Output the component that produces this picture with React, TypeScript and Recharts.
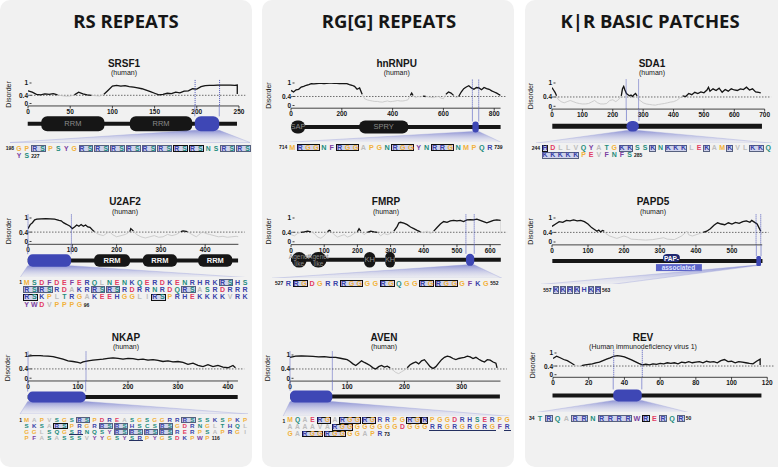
import React from "react";
import { ComposedChart, Line, XAxis, YAxis, ReferenceLine, ReferenceArea } from "recharts";

const FONT = '"Liberation Sans", Arial, Helvetica, sans-serif';
const HEAD_FONT = '"Open Sans", "Liberation Sans", sans-serif';
const INK = "#161616";
const FAINT = "#c8c8c8";
const REGION = "#3e47b5";
const PANEL_BG = "#f1f1f1";

// residue colour classes
const AA: Record<string, string> = {
  R: "#3a43a8", K: "#3a43a8", H: "#3a43a8",
  D: "#e23b63", E: "#e23b63",
  S: "#1d8c7c", T: "#1d8c7c", N: "#1d8c7c", Q: "#1d8c7c", C: "#1d8c7c",
  G: "#f2b23c", P: "#f2b23c", M: "#f2b23c",
  A: "#bdbdbd", V: "#bdbdbd", L: "#bdbdbd", I: "#bdbdbd",
  F: "#7a3ea1", Y: "#7a3ea1", W: "#7a3ea1",
};

// column headers
const HEADERS = ["RS REPEATS", "RG[G] REPEATS", "K|R BASIC PATCHES"];

// ---- disorder profiles: [residue, score] ----
const SRSF1_DISORDER: [number, number][] = [
  [0, 0.62], [5, 0.55], [10, 0.45], [15, 0.42], [20, 0.47], [25, 0.45], [30, 0.48], [35, 0.42], [40, 0.38], [45, 0.35],
  [50, 0.36], [55, 0.42], [60, 0.55], [65, 0.47], [70, 0.42], [75, 0.4], [80, 0.38], [85, 0.36], [90, 0.45], [95, 0.65],
  [100, 0.85], [105, 0.88], [110, 0.85], [115, 0.87], [120, 0.82], [125, 0.8], [130, 0.76], [135, 0.72], [140, 0.65], [145, 0.58],
  [150, 0.5], [155, 0.42], [160, 0.45], [165, 0.5], [170, 0.48], [175, 0.55], [180, 0.52], [185, 0.6], [190, 0.62], [195, 0.72],
  [200, 0.7], [205, 0.82], [210, 0.87], [215, 0.88], [220, 0.88], [225, 0.9], [230, 0.9], [235, 0.9], [240, 0.9], [245, 0.88],
  [248, 0.9], [248, 0.46],
];
const U2AF2_DISORDER: [number, number][] = [
  [0, 0.55], [5, 0.72], [10, 0.8], [15, 0.92], [20, 0.95], [30, 0.96], [40, 0.97], [50, 0.96], [60, 0.95], [70, 0.9],
  [75, 0.88], [80, 0.8], [85, 0.75], [90, 0.7], [95, 0.65], [100, 0.55], [105, 0.62], [110, 0.7], [115, 0.65], [120, 0.72],
  [125, 0.65], [130, 0.7], [135, 0.62], [140, 0.6], [145, 0.5], [150, 0.42], [155, 0.35], [160, 0.3], [170, 0.25], [180, 0.38],
  [185, 0.42], [190, 0.3], [200, 0.2], [210, 0.25], [220, 0.3], [230, 0.42], [232, 0.55], [238, 0.45], [245, 0.3], [255, 0.2],
  [265, 0.15], [275, 0.2], [285, 0.25], [295, 0.18], [305, 0.2], [315, 0.3], [325, 0.25], [335, 0.3], [345, 0.42], [350, 0.45],
  [360, 0.42], [370, 0.3], [380, 0.2], [390, 0.35], [395, 0.42], [400, 0.35], [410, 0.3], [420, 0.25], [430, 0.2], [440, 0.22],
  [450, 0.18], [460, 0.2], [470, 0.22], [475, 0.2],
];
const NKAP_DISORDER: [number, number][] = [
  [0, 0.95], [10, 0.97], [20, 0.98], [30, 0.96], [40, 0.95], [50, 0.93], [60, 0.88], [70, 0.82], [80, 0.75], [90, 0.72],
  [100, 0.68], [105, 0.65], [110, 0.7], [120, 0.75], [130, 0.78], [140, 0.8], [150, 0.82], [160, 0.85], [170, 0.88], [180, 0.85],
  [190, 0.82], [200, 0.85], [210, 0.84], [220, 0.8], [230, 0.82], [240, 0.78], [250, 0.8], [260, 0.77], [270, 0.72], [280, 0.75],
  [290, 0.7], [300, 0.72], [310, 0.68], [320, 0.6], [330, 0.65], [340, 0.55], [350, 0.5], [360, 0.58], [370, 0.5], [380, 0.55],
  [390, 0.48], [400, 0.45], [410, 0.55], [415, 0.45],
];
const HNRNPU_DISORDER: [number, number][] = [
  [0, 0.67], [10, 0.6], [20, 0.7], [30, 0.72], [40, 0.82], [50, 0.85], [60, 0.9], [70, 0.93], [80, 0.97], [90, 0.96],
  [100, 0.97], [110, 0.98], [120, 0.98], [130, 0.97], [140, 0.98], [150, 0.99], [160, 0.99], [170, 0.98], [180, 0.98], [190, 0.97],
  [200, 0.98], [210, 0.97], [220, 0.97], [230, 0.93], [240, 0.9], [250, 0.85], [260, 0.72], [270, 0.78], [280, 0.5], [290, 0.3],
  [300, 0.25], [310, 0.22], [320, 0.2], [330, 0.18], [340, 0.18], [350, 0.16], [360, 0.15], [370, 0.18], [380, 0.2], [390, 0.17],
  [400, 0.18], [410, 0.2], [420, 0.22], [430, 0.2], [440, 0.2], [450, 0.22], [460, 0.25], [470, 0.45], [475, 0.55], [480, 0.45],
  [490, 0.35], [500, 0.4], [510, 0.38], [520, 0.42], [530, 0.4], [540, 0.38], [550, 0.36], [560, 0.35], [570, 0.38], [580, 0.4],
  [590, 0.33], [600, 0.3], [610, 0.5], [620, 0.6], [630, 0.55], [640, 0.45], [650, 0.35], [660, 0.4], [670, 0.6], [680, 0.75],
  [690, 0.82], [700, 0.88], [710, 0.78], [720, 0.72], [730, 0.8], [740, 0.78], [750, 0.7], [760, 0.8], [770, 0.75], [780, 0.72],
  [790, 0.65], [800, 0.6], [810, 0.55], [820, 0.48], [825, 0.45],
];
const FMRP_DISORDER: [number, number][] = [
  [0, 0.3], [10, 0.25], [20, 0.35], [30, 0.4], [40, 0.42], [50, 0.45], [60, 0.42], [70, 0.35], [80, 0.2], [90, 0.15],
  [100, 0.25], [110, 0.42], [115, 0.48], [120, 0.45], [130, 0.3], [140, 0.2], [150, 0.25], [160, 0.3], [170, 0.2], [180, 0.25],
  [190, 0.35], [200, 0.42], [205, 0.55], [210, 0.45], [220, 0.3], [230, 0.4], [240, 0.45], [250, 0.42], [260, 0.4], [270, 0.25],
  [280, 0.35], [290, 0.3], [300, 0.35], [310, 0.45], [320, 0.65], [325, 0.8], [330, 0.82], [340, 0.78], [350, 0.72], [360, 0.62],
  [370, 0.55], [380, 0.48], [390, 0.42], [400, 0.38], [410, 0.45], [420, 0.35], [430, 0.45], [440, 0.6], [450, 0.75], [460, 0.85],
  [470, 0.82], [480, 0.88], [490, 0.9], [500, 0.88], [510, 0.9], [520, 0.85], [530, 0.92], [540, 0.93], [550, 0.92], [560, 0.95],
  [570, 0.9], [580, 0.85], [590, 0.8], [600, 0.85], [610, 0.9], [620, 0.92], [632, 0.9], [632, 0.35],
];
const AVEN_DISORDER: [number, number][] = [
  [0, 0.9], [10, 0.95], [20, 0.96], [30, 0.95], [40, 0.94], [50, 0.92], [60, 0.93], [70, 0.9], [80, 0.9], [90, 0.85],
  [100, 0.8], [105, 0.72], [110, 0.62], [115, 0.55], [120, 0.65], [125, 0.75], [130, 0.68], [135, 0.62], [140, 0.55], [145, 0.45],
  [150, 0.4], [155, 0.5], [160, 0.55], [165, 0.48], [170, 0.52], [175, 0.45], [180, 0.35], [185, 0.25], [190, 0.2], [195, 0.28],
  [200, 0.35], [205, 0.45], [210, 0.58], [215, 0.65], [220, 0.7], [225, 0.62], [230, 0.75], [235, 0.8], [240, 0.65], [245, 0.5],
  [250, 0.42], [255, 0.5], [260, 0.65], [265, 0.8], [270, 0.9], [275, 0.95], [280, 0.92], [285, 0.85], [290, 0.8], [295, 0.85],
  [300, 0.88], [305, 0.9], [310, 0.95], [315, 0.92], [320, 0.85], [325, 0.9], [330, 0.82], [335, 0.75], [340, 0.7], [345, 0.8],
  [350, 0.78], [355, 0.7], [360, 0.65], [362, 0.45],
];
const SDA1_DISORDER: [number, number][] = [
  [0, 0.8], [5, 0.7], [10, 0.6], [15, 0.45], [20, 0.3], [30, 0.2], [40, 0.15], [50, 0.2], [60, 0.25], [70, 0.2],
  [80, 0.15], [90, 0.12], [100, 0.1], [110, 0.1], [120, 0.12], [130, 0.18], [140, 0.25], [150, 0.15], [160, 0.1], [170, 0.1],
  [180, 0.12], [190, 0.25], [200, 0.28], [210, 0.2], [220, 0.3], [228, 0.45], [232, 0.75], [236, 0.85], [240, 0.7], [245, 0.55],
  [250, 0.5], [255, 0.45], [260, 0.48], [265, 0.42], [270, 0.5], [275, 0.55], [280, 0.45], [285, 0.3], [290, 0.25], [300, 0.15],
  [310, 0.1], [320, 0.08], [330, 0.06], [340, 0.05], [350, 0.08], [360, 0.1], [370, 0.12], [380, 0.15], [390, 0.18], [400, 0.2],
  [410, 0.25], [420, 0.35], [430, 0.45], [440, 0.42], [450, 0.55], [460, 0.5], [470, 0.6], [480, 0.55], [490, 0.62], [500, 0.58],
  [510, 0.7], [515, 0.82], [520, 0.65], [530, 0.75], [540, 0.68], [550, 0.78], [560, 0.6], [570, 0.72], [580, 0.65], [590, 0.75],
  [600, 0.7], [610, 0.68], [620, 0.75], [630, 0.72], [640, 0.82], [650, 0.7], [660, 0.75], [670, 0.62], [680, 0.6], [687, 0.58],
];
const PAPD5_DISORDER: [number, number][] = [
  [0, 0.65], [10, 0.75], [20, 0.85], [30, 0.82], [40, 0.9], [50, 0.88], [60, 0.92], [70, 0.88], [80, 0.9], [90, 0.85],
  [100, 0.75], [110, 0.6], [120, 0.5], [125, 0.45], [130, 0.5], [135, 0.42], [140, 0.48], [145, 0.45], [150, 0.35], [160, 0.25],
  [170, 0.2], [180, 0.15], [190, 0.2], [200, 0.25], [210, 0.2], [220, 0.12], [240, 0.1], [260, 0.08], [280, 0.1], [300, 0.15],
  [310, 0.18], [320, 0.12], [340, 0.1], [360, 0.25], [370, 0.38], [375, 0.45], [380, 0.3], [390, 0.25], [400, 0.3], [410, 0.35],
  [420, 0.4], [430, 0.45], [440, 0.55], [450, 0.7], [460, 0.8], [470, 0.75], [480, 0.72], [490, 0.8], [500, 0.75], [510, 0.82],
  [520, 0.78], [530, 0.85], [540, 0.88], [550, 0.82], [555, 0.9], [560, 0.85], [570, 0.75], [575, 0.6], [580, 0.45], [584, 0.3],
];
const REV_DISORDER: [number, number][] = [
  [0, 0.75], [2, 0.85], [4, 0.78], [6, 0.7], [8, 0.65], [10, 0.55], [12, 0.45], [14, 0.38], [16, 0.42], [18, 0.45],
  [20, 0.48], [22, 0.5], [24, 0.55], [26, 0.58], [28, 0.65], [30, 0.72], [32, 0.78], [34, 0.85], [36, 0.88], [38, 0.86],
  [40, 0.82], [42, 0.75], [44, 0.68], [46, 0.6], [48, 0.52], [50, 0.45], [52, 0.48], [54, 0.45], [56, 0.5], [58, 0.48],
  [60, 0.52], [62, 0.5], [64, 0.55], [66, 0.52], [68, 0.55], [70, 0.5], [72, 0.58], [74, 0.55], [76, 0.6], [78, 0.55],
  [80, 0.58], [82, 0.6], [84, 0.55], [86, 0.62], [88, 0.58], [90, 0.6], [92, 0.55], [94, 0.65], [96, 0.7], [98, 0.6],
  [100, 0.62], [102, 0.55], [104, 0.6], [106, 0.58], [108, 0.55], [110, 0.52], [112, 0.5], [114, 0.62], [116, 0.72], [116, 0.45],
];

// ---- x ticks ----
const SRSF1_TICKS = [0, 50, 100, 150, 200, 250];
const U2AF2_TICKS = [0, 100, 200, 300, 400];
const NKAP_TICKS = [0, 100, 200, 300, 400];
const HNRNPU_TICKS = [0, 200, 400, 600, 800];
const FMRP_TICKS = [0, 100, 200, 300, 400, 500, 600];
const AVEN_TICKS = [0, 100, 200, 300];
const SDA1_TICKS = [0, 100, 200, 300, 400, 500, 600, 700];
const PAPD5_TICKS = [0, 100, 200, 300, 400, 500];
const REV_TICKS = [0, 20, 40, 60, 80, 100, 120];
const DISORDER_TICKS = [0, 0.4, 1];

// ---- domains [from, to, label] ----
const SRSF1_DOMAINS: [number, number, string][] = [[16, 91, "RRM"], [121, 195, "RRM"]];
const U2AF2_DOMAINS: [number, number, string][] = [[150, 231, "RRM"], [260, 337, "RRM"], [385, 462, "RRM"]];
const HNRNPU_DOMAINS: [number, number, string][] = [[0, 55, "SAP"], [268, 462, "SPRY"]];
const FMRP_DOMAINS: [number, number, string][] = [[2, 47, "Agenet|like"], [58, 107, "Agenet|like"], [220, 254, "KH"], [284, 313, "KH"]];
const PAPD5_DOMAINS: [number, number, string][] = [[313, 349, "PAP-|associated"]];

// ---- sequences: [..] boxed, {..} dark box, (..) underlined ----
const SRSF1_SEQ = ["GP[RS]PSYG[RS][RS][RS][RS][RS][RS]{RS}{RS}NS[RS][RS]", "YS"];
const U2AF2_SEQ = [
  "MSDFDEFERQLNENKQERDKENRHRK[RS]HS",
  "[RS][RS]RDAKR[RS][RS]RDRRNRDQ[RS]ASRDRRR",
  "{RS}KPLTRGAKEEHGGLI{RS}PRHEKKKKVRK",
  "YWDVPPPG",
];
const NKAP_SEQ = [
  "MAPVSGS[RS]PDREASGSGGRR[RS]SSKSPKP",
  "SKSA{RS}PRGR[RS][RS]HSCS[RS]GDRNGLTHQL",
  "GGLSQG(SR)NQSY[RS][RS][RS][RS]RERPSAPRGI",
  "PFASASSSVYYGSY(SR)PYGSDKPWP",
];
const HNRNPU_SEQ = ["M{RGG}NF{RGG}APGN{RGG}YN{RRG}NMPQR"];
const FMRP_SEQ = ["R{RG}DGRR{RGG}GG{RG}QGG{RG}{RGG}GFKG"];
const AVEN_SEQ = [
  "MQAE{RG}A{RGG}{RG}RRPG{RG}{R}PGGDRHSERPG",
  "AAAAVA{RGG}GGGGGGDGGG(RRG)(RG)(RG)(RG)F(R)",
  "GA{RGG}{RGG}GGAPR",
];
const SDA1_SEQ = ["{H}DLLVQYATG[KK]SS[K]N[KKK]LE[K]AM[K]VL[KK]Q", "[KKKKK]PEVFNFS"];
const PAPD5_SEQ = ["[K][K][R][K]H[K][R]"];
const REV_SEQ = ["T[R]QA[RR]N[RRRR]W{R}E[R]Q[R]"];

const PANELS = [
  { name: "SRSF1", sub: "(human)", dis: SRSF1_DISORDER, ticks: SRSF1_TICKS, xMax: 250, len: 248, domains: SRSF1_DOMAINS, region: [198, 227], seq: SRSF1_SEQ, range: [198, 227],
    lay: { pL: 4, pR: 250, x0: 27.7, x1: 238.7, y1: 82.5, y0: 103, lab: 6.8, domY: 124.3, domH: 15, domR: 6, regH: 15, regR: 6, bb: 4, triY: 143, triL: 10, triR: 250, seqX: 19, seqY: 148.3, pitch: 7.88, rowH: 7.5, fs: 6.8, tx: 124, ty: 63, sy: 72.7, domText: "#8a8a8a", domBold: false } },
  { name: "U2AF2", sub: "(human)", dis: U2AF2_DISORDER, ticks: U2AF2_TICKS, xMax: 475, len: 475, domains: U2AF2_DOMAINS, region: [0, 98], seq: U2AF2_SEQ, range: [1, 96],
    lay: { pL: 4, pR: 250, x0: 27.7, x1: 238.1, y1: 217.5, y0: 241, lab: 6.6, domY: 260.3, domH: 12.5, domR: 5, regH: 12.5, regR: 5, bb: 4, triY: 277.5, triL: 20, triR: 248, seqX: 26.7, seqY: 282.3, pitch: 7.53, rowH: 7.45, fs: 7, tx: 125, ty: 201.7, sy: 212, domText: "#f4f4f4", domBold: true } },
  { name: "NKAP", sub: "(human)", dis: NKAP_DISORDER, ticks: NKAP_TICKS, xMax: 420, len: 420, domains: [], region: [0, 116], seq: NKAP_SEQ, range: [1, 116],
    lay: { pL: 4, pR: 250, x0: 27.7, x1: 237.7, y1: 354.5, y0: 377.7, lab: 5.6, domY: 397.5, domH: 11, domR: 5, regH: 11, regR: 5, bb: 4, triY: 414.5, triL: 20, triR: 248, seqX: 26.7, seqY: 420, pitch: 7.53, rowH: 5.9, fs: 6.2, tx: 126, ty: 337, sy: 346.7, domText: "#8a8a8a", domBold: false } },
  { name: "hnRNPU", sub: "(human)", dis: HNRNPU_DISORDER, ticks: HNRNPU_TICKS, xMax: 825, len: 825, domains: HNRNPU_DOMAINS, region: [714, 739], seq: HNRNPU_SEQ, range: [714, 739],
    lay: { pL: 266, pR: 512, x0: 291, x1: 500.6, y1: 82.5, y0: 105, lab: 3.5, domY: 126.7, domH: 13, domR: 6, regH: 11, regR: 99, bb: 4, triY: 142.5, triL: 280, triR: 502, seqX: 292.3, seqY: 147.3, pitch: 7.9, rowH: 7.4, fs: 7.2, tx: 396.7, ty: 63, sy: 72.7, domText: "#8a8a8a", domBold: false } },
  { name: "FMRP", sub: "(human)", dis: FMRP_DISORDER, ticks: FMRP_TICKS, xMax: 632, len: 632, domains: FMRP_DOMAINS, region: [527, 552], seq: FMRP_SEQ, range: [527, 552],
    lay: { pL: 266, pR: 512, x0: 291, x1: 500.8, y1: 217.5, y0: 241.3, lab: 3.5, domY: 260, domH: 15.5, domR: 99, regH: 12, regR: 99, bb: 4, triY: 278.5, triL: 272, triR: 502, seqX: 288.3, seqY: 283.3, pitch: 7.9, rowH: 7.4, fs: 7.2, tx: 386, ty: 201.7, sy: 212, domText: "#8a8a8a", domBold: false } },
  { name: "AVEN", sub: "(human)", dis: AVEN_DISORDER, ticks: AVEN_TICKS, xMax: 368, len: 367, domains: [], region: [0, 74], seq: AVEN_SEQ, range: [1, 73],
    lay: { pL: 266, pR: 512, x0: 290, x1: 500.5, y1: 355, y0: 378.3, lab: 3.5, domY: 396.7, domH: 12, domR: 5, regH: 12, regR: 5, bb: 4, triY: 416.5, triL: 283, triR: 510, seqX: 290, seqY: 420.7, pitch: 7.49, rowH: 6.7, fs: 6.7, tx: 384, ty: 337, sy: 346.7, domText: "#8a8a8a", domBold: false } },
  { name: "SDA1", sub: "(human)", dis: SDA1_DISORDER, ticks: SDA1_TICKS, xMax: 700, len: 690, domains: [], region: [244, 285], seq: SDA1_SEQ, range: [244, 285],
    lay: { pL: 530, pR: 776, x0: 552.3, x1: 765, y1: 82.7, y0: 106, lab: 4.8, domY: 126, domH: 10.5, domR: 5, regH: 10.5, regR: 99, bb: 5, triY: 143, triL: 536, triR: 772, seqX: 545, seqY: 148.3, pitch: 7.7, rowH: 6.9, fs: 7, tx: 652, ty: 63, sy: 72.7, domText: "#8a8a8a", domBold: false } },
  { name: "PAPD5", sub: "(human)", dis: PAPD5_DISORDER, ticks: PAPD5_TICKS, xMax: 584, len: 584, domains: PAPD5_DOMAINS, region: [567, 580], seq: PAPD5_SEQ, range: [557, 563],
    lay: { pL: 530, pR: 776, x0: 552.3, x1: 762.5, y1: 217.7, y0: 241.7, lab: 4.8, domY: 260.7, domH: 8, domR: 4, regH: 10, regR: 1.5, bb: 4, triY: 284, triL: 541, triR: 612, seqX: 556, seqY: 290, pitch: 7, rowH: 7.4, fs: 7.2, tx: 653, ty: 201.7, sy: 212, domText: "#ffffff", domBold: true } },
  { name: "REV", sub: "(Human immunodeficiency virus 1)", dis: REV_DISORDER, ticks: REV_TICKS, xMax: 120, len: 117, domains: [], region: [34, 50], seq: REV_SEQ, range: [34, 50],
    lay: { pL: 530, pR: 776, x0: 552.5, x1: 766.8, y1: 353.3, y0: 375, lab: 6, domY: 395, domH: 12, domR: 5, regH: 12, regR: 5, bb: 4, triY: 412.5, triL: 534, triR: 690, seqX: 540, seqY: 418.3, pitch: 8.8, rowH: 7.4, fs: 7.2, tx: 643, ty: 337, sy: 346.7, domText: "#8a8a8a", domBold: false } },
];

const COLS = [
  { x: 0, w: 252, cx: 126 },
  { x: 262, w: 252, cx: 389 },
  { x: 525, w: 262, cx: 650 },
];

function domainShape(label: string, color: string, bold: boolean, r: number) {
  const lines = label.split("|");
  return (p: any) => {
    const { x, y, width, height } = p;
    const rr = Math.min(r, width / 2, height / 2);
    if (label.startsWith("PAP")) {
      return (
        <g>
          <rect x={x - 2} y={y - 3} width={width + 4} height={height} rx={rr} fill="#1f2870" />
          <text x={x + width / 2} y={y - 3 + height / 2} textAnchor="middle" dominantBaseline="central" fontSize={6.5} fontWeight={700} fill="#fff" fontFamily={FONT}>{lines[0]}</text>
          <rect x={x - 9} y={y + height - 1} width={width + 33} height={7} fill="#5a62c8" />
          <text x={x + width / 2 + 7} y={y + height + 2.5} textAnchor="middle" dominantBaseline="central" fontSize={6.5} fontWeight={700} fill="#dfe2ff" fontFamily={FONT}>{lines[1]}</text>
        </g>
      );
    }
    return (
      <g>
        <rect x={x} y={y} width={width} height={height} rx={rr} fill={INK} />
        {lines.map((t, i) => (
          <text key={i} x={x + width / 2} y={y + height / 2 + (i - (lines.length - 1) / 2) * 6.5} textAnchor="middle" dominantBaseline="central"
            fontSize={lines.length > 1 ? 6.5 : 7.5} fontWeight={bold ? 700 : 400} fill={color} fontFamily={FONT}>{t}</text>
        ))}
      </g>
    );
  };
}

function regionShape(id: string, triL: number, triR: number, bottom: number, r: number) {
  return (p: any) => {
    const { x, y, width, height } = p;
    const rr = Math.min(r, width / 2, height / 2);
    const yb = y + height - 1;
    return (
      <g>
        <defs>
          <linearGradient id={id} x1="0" y1="0" x2="0" y2="1">
            <stop offset="0%" stopColor="#4d55c0" stopOpacity={0.6} />
            <stop offset="100%" stopColor="#c4c7ee" stopOpacity={0.1} />
          </linearGradient>
        </defs>
        <line x1={x} y1={0} x2={x} y2={y} stroke="#6a72c8" strokeWidth={0.7} />
        <line x1={x + width} y1={0} x2={x + width} y2={y} stroke="#6a72c8" strokeWidth={0.7} />
        <polygon points={`${x},${yb} ${x + width},${yb} ${triR},${bottom} ${triL},${bottom}`} fill={`url(#${id})`} stroke="#9da2dc" strokeWidth={0.4} />
        <rect x={x} y={y} width={width} height={height} rx={rr} fill={REGION} />
      </g>
    );
  };
}

// y tick drawn explicitly so that the "0" label is always shown
function YTick(p: any) {
  const { x, y, payload } = p;
  return (
    <g>
      <line x1={x + 1.5} y1={y} x2={x + 3.5} y2={y} stroke={INK} strokeWidth={0.8} />
      <text x={x} y={y} textAnchor="end" dominantBaseline="central" fontSize={6.5} fontWeight={700} fill={INK} fontFamily={FONT}>{String(payload.value)}</text>
    </g>
  );
}

function parseRow(row: string) {
  const letters: string[] = [];
  const boxes: { a: number; b: number; kind: string }[] = [];
  let open: { a: number; kind: string } | null = null;
  for (const c of row) {
    if (c === "[" || c === "{" || c === "(") open = { a: letters.length, kind: c };
    else if (c === "]" || c === "}" || c === ")") {
      if (open) boxes.push({ a: open.a, b: letters.length - 1, kind: open.kind });
      open = null;
    } else letters.push(c);
  }
  return { letters, boxes };
}

function Sequence({ rows, range, lay }: any) {
  const { seqX, seqY, pitch, rowH, fs } = lay;
  const parsed = rows.map(parseRow);
  const bh = Math.min(rowH - 0.2, fs * 1.2);
  const els: any[] = [];
  parsed.forEach((r: any, ri: number) => {
    const cy = seqY + ri * rowH;
    r.boxes.forEach((b: any, bi: number) => {
      const left = seqX + (b.a - 0.5) * pitch + 0.4;
      const w = (b.b - b.a + 1) * pitch - 0.8;
      if (b.kind === "(") {
        els.push(<div key={`u${ri}-${bi}`} style={{ position: "absolute", left, top: cy + bh / 2 - 0.9, width: w, height: 0, borderBottom: "0.9px solid #243060" }} />);
      } else {
        els.push(<div key={`b${ri}-${bi}`} style={{ position: "absolute", left, top: cy - bh / 2, width: w, height: bh, boxSizing: "border-box",
          border: b.kind === "{" ? "1px solid #111" : "0.8px solid #56607e", background: "#d0d3ec" }} />);
      }
    });
    r.letters.forEach((c: string, i: number) => {
      els.push(<span key={`l${ri}-${i}`} style={{ position: "absolute", left: seqX + (i - 0.5) * pitch, top: cy - rowH / 2, width: pitch, height: rowH,
        lineHeight: `${rowH}px`, textAlign: "center", fontSize: fs, fontWeight: 700, color: AA[c] || INK }}>{c}</span>);
    });
  });
  const last = parsed[parsed.length - 1];
  const lastY = seqY + (parsed.length - 1) * rowH;
  return (
    <div style={{ position: "absolute", left: 0, top: 0, fontFamily: FONT }}>
      {els}
      <span style={{ position: "absolute", left: seqX - pitch / 2 - 21, width: 20, textAlign: "right", top: seqY - 3, lineHeight: "6px", fontSize: 5, fontWeight: 700, color: INK }}>{range[0]}</span>
      <span style={{ position: "absolute", left: seqX + (last.letters.length - 0.5) * pitch + 0.5, top: lastY - 3, lineHeight: "6px", fontSize: 5, fontWeight: 700, color: INK }}>{range[1]}</span>
    </div>
  );
}

function Panel({ s, idx }: any) {
  const lay = s.lay;
  const YW = 26, MT = 6, MR = 12, XH = 14;
  const plotW = lay.x1 - lay.x0;
  const plotH = (lay.y0 - lay.y1) * 1.12;
  const axisY = lay.y1 + plotH;
  const rows = s.dis.map(([x, v]: [number, number]) => ({ x, all: v, hi: v >= 0.4 ? v : null }));
  const tick = { fontSize: 6.5, fill: INK, fontWeight: 700, fontFamily: FONT };
  const dTop = lay.domY - 10;
  const dH = lay.triY - axisY;
  const u = (px: number) => px / 10;
  const [r0, r1] = s.region;
  return (
    <>
      <div style={{ position: "absolute", left: lay.x0 - YW, top: lay.y1 - MT }}>
        <ComposedChart width={YW + plotW + MR} height={MT + plotH + XH} data={rows} margin={{ top: MT, right: MR, bottom: 0, left: 0 }}>
          <XAxis dataKey="x" type="number" domain={[0, s.xMax]} ticks={s.ticks} interval={0} allowDataOverflow height={XH}
            tickSize={2.5} tickMargin={1} axisLine={{ stroke: INK, strokeWidth: 0.8 }} tickLine={{ stroke: INK, strokeWidth: 0.8 }} tick={tick} />
          <YAxis type="number" domain={[-0.12, 1]} ticks={DISORDER_TICKS} interval={0} allowDataOverflow width={YW} tickSize={0} tickMargin={0}
            axisLine={false} tickLine={false} tick={<YTick />}
            label={{ value: "Disorder", angle: -90, position: "insideLeft", offset: lay.lab, fontSize: 7, fill: INK, fontFamily: FONT, style: { textAnchor: "middle" } }} />
          <ReferenceLine segment={[{ x: 0, y: 0.4 }, { x: s.xMax * 1.03, y: 0.4 }]} ifOverflow="visible" stroke="#333" strokeWidth={0.7} strokeDasharray="1.5 1.5" />
          <Line dataKey="all" stroke={FAINT} strokeWidth={0.9} dot={false} isAnimationActive={false} />
          <Line dataKey="hi" stroke={INK} strokeWidth={1.3} dot={false} isAnimationActive={false} />
          <ReferenceLine segment={[{ x: r0, y: 1.15 }, { x: r0, y: -0.12 }]} ifOverflow="visible" stroke={REGION} strokeWidth={0.9} strokeDasharray="1 1" />
          <ReferenceLine segment={[{ x: r1, y: 1.15 }, { x: r1, y: -0.12 }]} ifOverflow="visible" stroke={REGION} strokeWidth={0.9} strokeDasharray="1 1" />
        </ComposedChart>
      </div>
      <div style={{ position: "absolute", left: lay.pL, top: axisY }}>
        <ComposedChart width={lay.pR - lay.pL} height={dH} data={[{ x: 0 }, { x: s.xMax }]}
          margin={{ top: dTop - axisY, right: lay.pR - lay.x1, bottom: lay.triY - (lay.domY + 10), left: lay.x0 - lay.pL }}>
          <XAxis dataKey="x" type="number" domain={[0, s.xMax]} hide allowDataOverflow />
          <YAxis type="number" domain={[-1, 1]} hide allowDataOverflow />
          <ReferenceArea x1={0} x2={s.len} y1={-u(lay.bb / 2)} y2={u(lay.bb / 2)} fill={INK} fillOpacity={1} stroke="none" ifOverflow="visible" />
          {s.domains.map((d: [number, number, string], i: number) => (
            <ReferenceArea key={i} x1={d[0]} x2={d[1]} y1={-u(lay.domH / 2)} y2={u(lay.domH / 2)} ifOverflow="visible"
              shape={domainShape(d[2], lay.domText, lay.domBold, lay.domR)} />
          ))}
          <ReferenceArea x1={r0} x2={r1} y1={-u(lay.regH / 2)} y2={u(lay.regH / 2)} ifOverflow="visible"
            shape={regionShape(`tri${idx}`, lay.triL - lay.pL, lay.triR - lay.pL, dH, lay.regR)} />
        </ComposedChart>
      </div>
      <Sequence rows={s.seq} range={s.range} lay={lay} />
    </>
  );
}

export default function App() {
  return (
    <div style={{ position: "absolute", left: 0, top: 0, width: 778, height: 468, background: "#fff", overflow: "hidden", fontFamily: FONT }}>
      <svg width={778} height={468} style={{ position: "absolute", left: 0, top: 0 }}>
        {COLS.map((c, i) => (
          <g key={i}>
            <rect x={c.x} y={0} width={c.w} height={467} rx={10} fill={PANEL_BG} />
            <text x={c.cx} y={28.3} textAnchor="middle" fontFamily={HEAD_FONT} fontWeight={700} fontSize={18.5} fill={INK}>{HEADERS[i]}</text>
          </g>
        ))}
        {PANELS.map((p, i) => (
          <g key={i}>
            <text x={p.lay.tx} y={p.lay.ty + 3.6} textAnchor="middle" fontFamily={FONT} fontWeight={700} fontSize={10} fill={INK}>{p.name}</text>
            <text x={p.lay.tx} y={p.lay.sy + 2.4} textAnchor="middle" fontFamily={FONT} fontSize={7} fill={INK}>{p.sub}</text>
          </g>
        ))}
      </svg>
      {PANELS.map((p, i) => <Panel key={i} s={p} idx={i} />)}
    </div>
  );
}
